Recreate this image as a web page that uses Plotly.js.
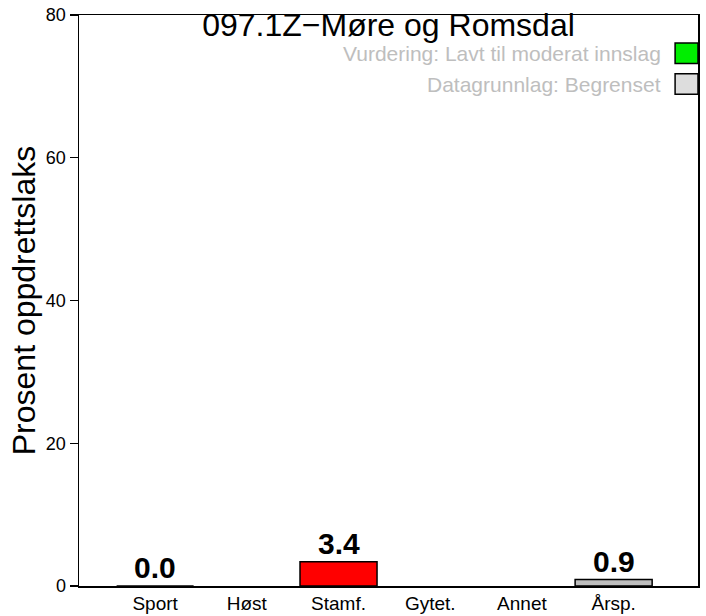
<!DOCTYPE html>
<html>
<head>
<meta charset="utf-8">
<script src="https://cdn.plot.ly/plotly-3.0.1.min.js"></script>
<style>
  html, body { margin: 0; padding: 0; background: #ffffff; }
  #chart { width: 706px; height: 616px; }
</style>
</head>
<body>
<div id="chart"></div>
<script>
// Chart data
var categories = ['Sport', 'Høst', 'Stamf.', 'Gytet.', 'Annet', 'Årsp.'];
var values = [0.0, null, 3.4, null, null, 0.9];
var barColors = ['#bebebe', '#bebebe', '#ff0000', '#bebebe', '#bebebe', '#bebebe'];
var yTicks = [0, 20, 40, 60, 80];
var chartTitle = '097.1Z\u2212Møre og Romsdal';
var yTitle = 'Prosent oppdrettslaks';
var legendTexts = ['Vurdering: Lavt til moderat innslag', 'Datagrunnlag: Begrenset'];
var legendColors = ['#00ee00', '#dddddd'];

var font = 'Liberation Sans, Arial, Helvetica, sans-serif';

var bars = {
    x: categories,
    y: values,
    type: 'bar',
    marker: {
        color: barColors,
        line: { color: '#000000', width: 1.5 }
    },
    hoverinfo: 'x+y'
};

// value labels above the bars
var annotations = [];
for (var i = 0; i < categories.length; i++) {
    if (values[i] === null) continue;
    annotations.push({
        x: categories[i],
        y: values[i],
        xref: 'x',
        yref: 'y',
        text: '<b>' + values[i].toFixed(1) + '</b>',
        showarrow: false,
        yanchor: 'bottom',
        yshift: 0,
        font: { family: font, size: 30, color: '#000000' }
    });
}

// legend-like notes in the top right corner
var legendY = [0.933, 0.879];
var shapes = [];
for (var j = 0; j < legendTexts.length; j++) {
    annotations.push({
        x: 0.943,
        y: legendY[j],
        xref: 'paper',
        yref: 'paper',
        text: legendTexts[j],
        showarrow: false,
        xanchor: 'right',
        yanchor: 'middle',
        font: { family: font, size: 21, color: '#bebebe' }
    });
    shapes.push({
        type: 'rect',
        xref: 'paper',
        yref: 'paper',
        x0: 0.963,
        x1: 1.0,
        y0: legendY[j] - 0.018,
        y1: legendY[j] + 0.018,
        fillcolor: legendColors[j],
        line: { color: '#000000', width: 1.5 }
    });
}

var layout = {
    width: 706,
    height: 616,
    paper_bgcolor: '#ffffff',
    plot_bgcolor: '#ffffff',
    showlegend: false,
    bargap: 0.16,
    font: { family: font, color: '#000000' },
    margin: { l: 79, r: 8, t: 15, b: 30, pad: 0 },
    title: {
        text: chartTitle,
        x: 0.5,
        xref: 'paper',
        y: 0.978,
        yref: 'container',
        yanchor: 'top',
        font: { family: font, size: 32, color: '#000000' }
    },
    xaxis: {
        type: 'category',
        range: [-0.83, 5.92],
        showline: true,
        mirror: true,
        linecolor: '#000000',
        linewidth: 1.5,
        showgrid: false,
        zeroline: false,
        ticks: '',
        tickfont: { family: font, size: 19, color: '#000000' },
        automargin: false
    },
    yaxis: {
        range: [0, 80],
        tickvals: yTicks,
        showline: true,
        mirror: true,
        linecolor: '#000000',
        linewidth: 1.5,
        showgrid: false,
        zeroline: false,
        ticks: 'outside',
        ticklen: 8,
        tickwidth: 1.2,
        tickcolor: '#000000',
        tickfont: { family: font, size: 18, color: '#000000' },
        title: {
            text: yTitle,
            standoff: 0,
            font: { family: font, size: 32, color: '#000000' }
        },
        automargin: false
    },
    annotations: annotations,
    shapes: shapes
};

Plotly.newPlot('chart', [bars], layout, { displayModeBar: false, staticPlot: true });
</script>
</body>
</html>
